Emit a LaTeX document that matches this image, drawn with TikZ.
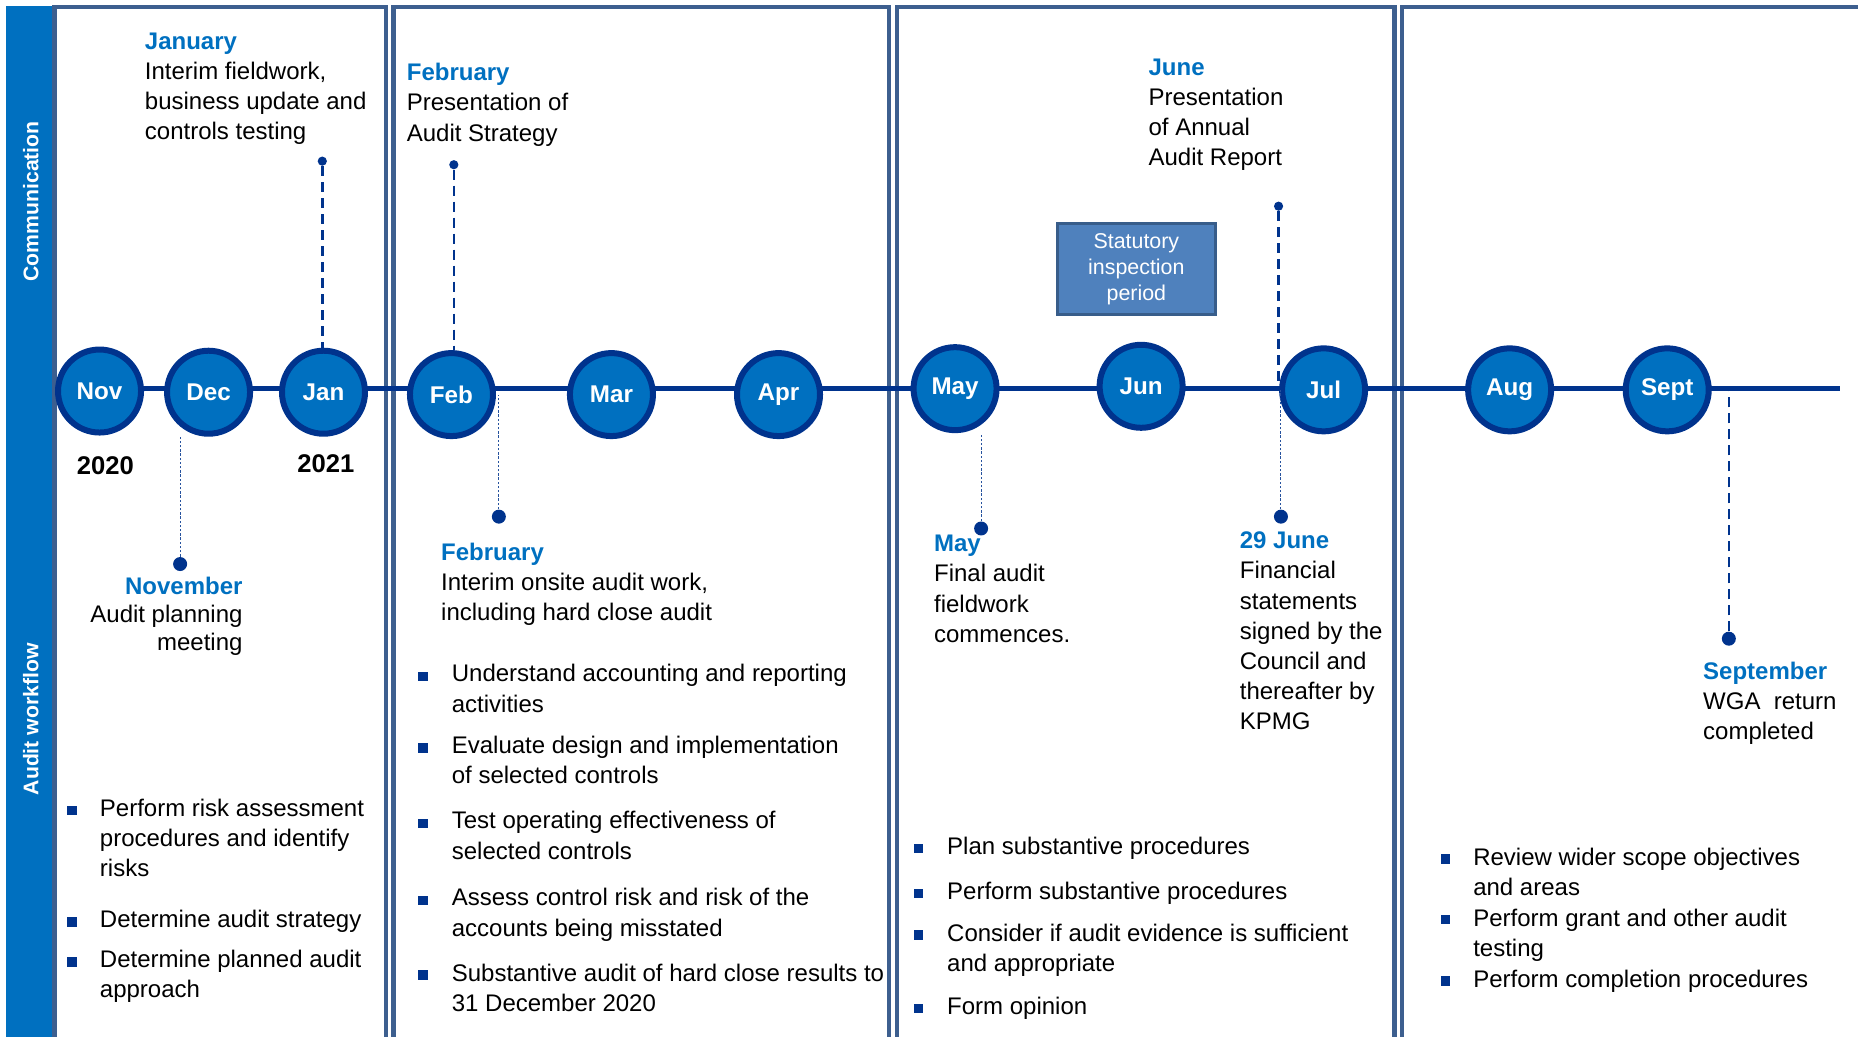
\documentclass[tikz,border=0pt]{standalone}
\usepackage{fontspec}
\setmainfont{Liberation Sans}
\definecolor{kblue}{RGB}{0,112,192}
\definecolor{kdark}{RGB}{0,51,141}
\definecolor{kframe}{RGB}{61,95,143}
\definecolor{kbox}{RGB}{79,129,189}
\definecolor{kboxline}{RGB}{56,93,138}
\newcommand{\mhead}[1]{\textcolor{kblue}{\bfseries #1}}
\begin{document}
\begin{tikzpicture}
    [x=0.5925pt,y=-0.5925pt,
    month/.style={circle,draw=kdark,fill=kblue,line width=3pt,minimum size=41.5pt,inner sep=0pt,text=white,font=\bfseries\fontsize{12.1}{14}\selectfont},
    panel/.style={draw=kframe,line width=2.2pt},
    spine/.style={draw=kdark,line width=2.4pt},
    note/.style={anchor=base west,inner sep=0pt,align=left,font=\fontsize{12}{15.1}\selectfont},
    bulletitem/.style={note},
    sq/.style={fill=kdark,minimum size=4.8pt,inner sep=0pt},
    evdot/.style={circle,fill=kdark,inner sep=0pt,minimum size=4.6pt},
    evdotbig/.style={evdot,minimum size=7pt},
    commline/.style={kdark,line width=1.2pt,dash pattern=on 5pt off 3pt},
    workline/.style={kdark!85,line width=0.5pt,dash pattern=on 1.2pt off 0.9pt},
    sidelabel/.style={rotate=90,text=white,font=\bfseries\fontsize{10.6}{12}\selectfont},
    year/.style={font=\bfseries\fontsize{12.8}{14}\selectfont},
    statbox/.style={draw=kboxline,fill=kbox,line width=1.8pt,minimum width=79pt,minimum height=45.5pt,align=center,text=white,font=\fontsize{10.7}{13}\selectfont}]
    \useasboundingbox (0,0) rectangle (1568,875);
    \fill[kblue] (5,5) rectangle (44,875);
    \node[sidelabel] (comm) at (26,170) {Communication};
    \node[sidelabel] (work) at (26,607) {Audit workflow};
    \draw[panel] (46,875) -- (46,6) -- (326,6) -- (326,875);
    \draw[panel] (332,875) -- (332,6) -- (750,6) -- (750,875);
    \draw[panel] (757,875) -- (757,6) -- (1177,6) -- (1177,875);
    \draw[panel] (1183,875) -- (1183,6) -- (1568,6);
    \coordinate (tlw) at (47,328);
    \coordinate (tle) at (1553,328);
    \draw[spine] (tlw) -- (tle);
    \foreach \mx/\my/\mname/\mlabel in {84/330/nov/Nov,176/331/dec/Dec,273/331/jan/Jan,381/333/feb/Feb,516/333/mar/Mar,657/333/apr/Apr,806/328/may/May,963/326/jun/Jun,1117/329/jul/Jul,1274/329/aug/Aug,1407/329/sep/Sept}
        \node[month] (\mname) at (\mx,\my) {\mlabel};
    \node[year] (y20) at (89,393) {2020};
    \node[year] (y21) at (275,391) {2021};
    \node[note] (jannote) at (122,118) {\mhead{January}\\Interim fieldwork,\\business update and\\controls testing};
    \node[note] (febnote) at (343,119) {\mhead{February}\\Presentation of\\Audit Strategy};
    \node[note] (junnote) at (969,140) {\mhead{June}\\Presentation\\of Annual\\Audit Report};
    \node[statbox] (stat) at (959,227) {Statutory\\inspection\\period};
    \node[evdot] (jdot) at (272,136) {};
    \node[evdot] (fdot) at (383,139) {};
    \node[evdot] (udot) at (1079,174) {};
    \draw[commline] (jdot) -- (jdot |- jan.north);
    \draw[commline] (fdot) -- (fdot |- feb.north);
    \draw[commline] (udot) -- (udot |- jul.west);
    \node[note,anchor=base east,align=right,font=\fontsize{12}{14}\selectfont] (novnote) at (205,549) {\mhead{November}\\Audit planning\\meeting};
    \node[note] (feb2note) at (372,524) {\mhead{February}\\Interim onsite audit work,\\including hard close audit};
    \node[note] (maynote) at (788,542) {\mhead{May}\\Final audit\\fieldwork\\commences.};
    \node[note] (signnote) at (1046,616) {\mhead{29 June}\\Financial\\statements\\signed by the\\Council and\\thereafter by\\KPMG};
    \node[note] (sepnote) at (1437,624) {\mhead{September}\\WGA\ \ return\\completed};
    \node[evdotbig] (ndot) at (152,476) {};
    \node[evdotbig] (f2dot) at (421,436) {};
    \node[evdotbig] (mdot) at (828,446) {};
    \node[evdotbig] (cdot) at (1081,436) {};
    \node[evdotbig] (sdot) at (1459,539) {};
    \draw[workline] (ndot) -- (ndot |- dec.south);
    \draw[workline] (f2dot) -- (f2dot |- feb.east);
    \draw[workline] (mdot) -- (mdot |- may.south);
    \draw[workline] (cdot) -- (cdot |- jul.west);
    \draw[commline] (sdot) -- (sdot |- sep.east);
    \foreach \by/\ly/\btxt [count=\i] in {689/740/{Perform risk assessment\\procedures and identify\\risks},783/783/{Determine audit strategy},817/842/{Determine planned audit\\approach}}{
        \node[sq] (pa\i) at (61,\by-5) {};
        \node[bulletitem] (ta\i) at (84,\ly) {\btxt};
    }
    \foreach \by/\ly/\btxt [count=\i] in {576/601/{Understand accounting and reporting\\activities},636/661/{Evaluate design and implementation\\of selected controls},700/725/{Test operating effectiveness of\\selected controls},765/790/{Assess control risk and risk of the\\accounts being misstated},828/854/{Substantive audit of hard close results to\\31 December 2020}}{
        \node[sq] (pb\i) at (357,\by-5) {};
        \node[bulletitem] (tb\i) at (381,\ly) {\btxt};
    }
    \foreach \by/\ly/\btxt [count=\i] in {721/721/{Plan substantive procedures},759/759/{Perform substantive procedures},794/820/{Consider if audit evidence is sufficient\\and appropriate},856/856/{Form opinion}}{
        \node[sq] (pc\i) at (775,\by-5) {};
        \node[bulletitem] (tc\i) at (799,\ly) {\btxt};
    }
    \foreach \by/\ly/\btxt [count=\i] in {730/756/{Review wider scope objectives\\and areas},781/807/{Perform grant and other audit\\testing},833/833/{Perform completion procedures}}{
        \node[sq] (pd\i) at (1220,\by-5) {};
        \node[bulletitem] (td\i) at (1243,\ly) {\btxt};
    }
\end{tikzpicture}
\end{document}
